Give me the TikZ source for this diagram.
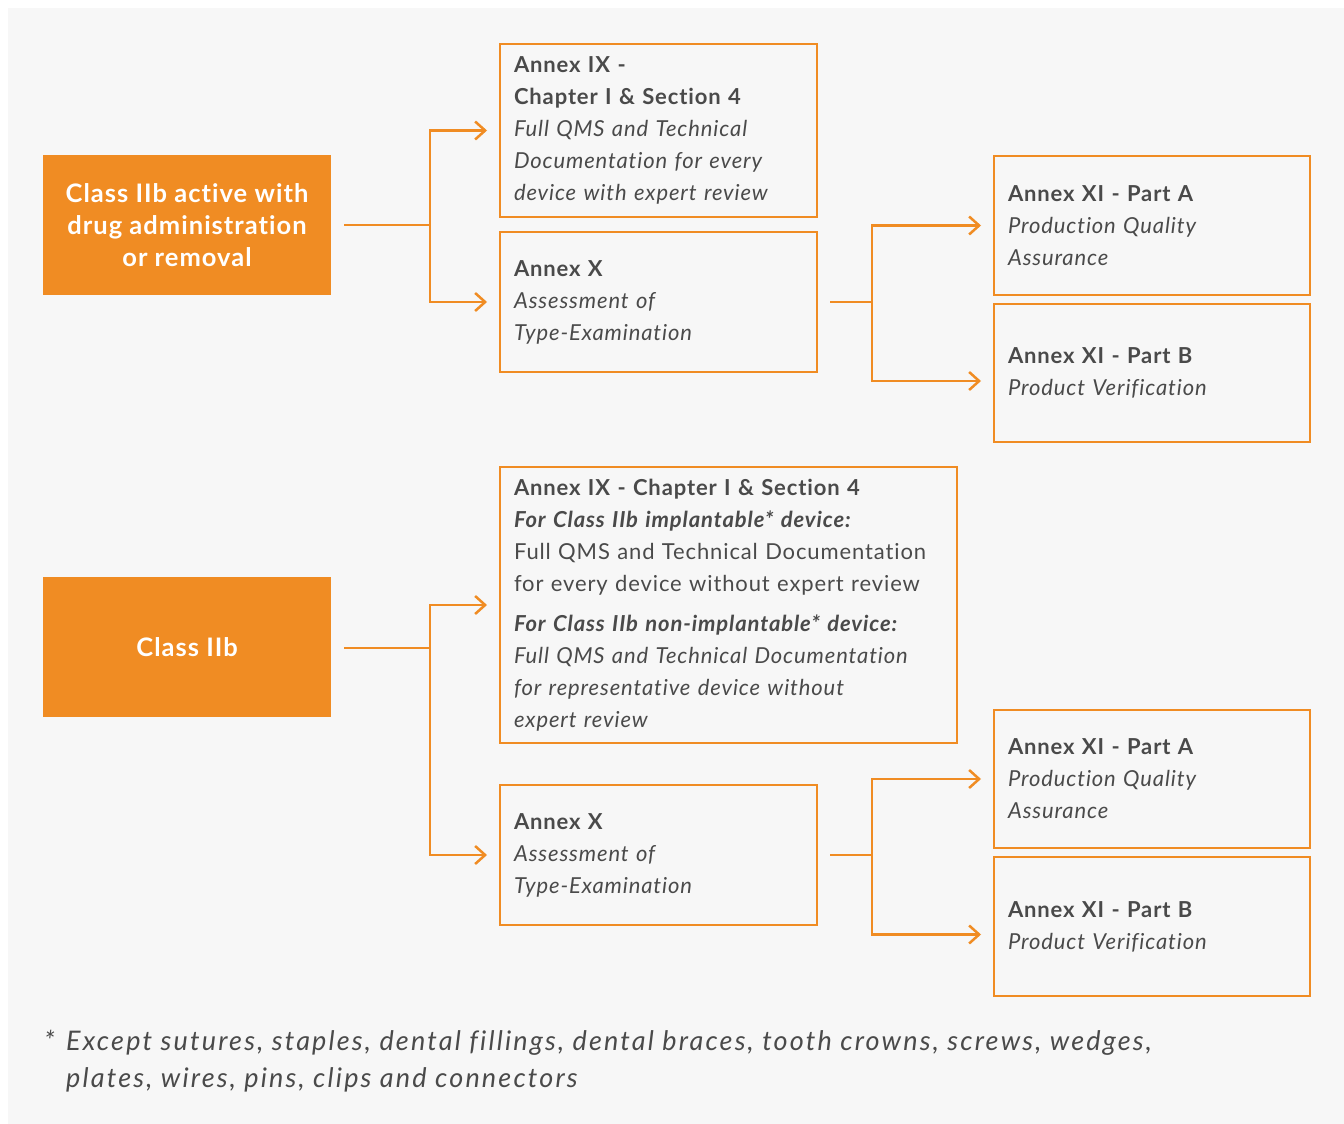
\documentclass[tikz,border=0pt]{standalone}
\usepackage{fontspec}
\setmainfont{Lato}[LetterSpace=4, Ligatures=NoCommon]
\usetikzlibrary{arrows.meta}
\definecolor{orng}{HTML}{F08C23}
\definecolor{txt}{HTML}{4A4A4A}
\definecolor{bg}{HTML}{F7F7F7}
\tikzset{
  solidbox/.style={fill=orng, draw=none, text=white, align=center, font=\fontsize{25.5}{32}\selectfont\bfseries, minimum width=288pt, minimum height=140pt, inner sep=0pt, outer sep=0pt, anchor=north west},
  outbox/.style={draw=orng, line width=2.5pt, text=txt, align=left, font=\fontsize{22}{32}\selectfont, inner xsep=14pt, inner ysep=0pt, outer sep=0pt, anchor=north west, yshift=-2pt},
  link/.style={draw=orng, line width=2.5pt},
  arr/.style={link, -{Straight Barb[length=10pt, width=18pt, line width=2.5pt]}}
}
\begin{document}
\begin{tikzpicture}[x=1pt, y=-1pt]
\useasboundingbox (0,0) rectangle (1344,1124);
\fill[bg] (8,8) rectangle (1344,1124);

% top group
\node[solidbox] (cls1) at (43,155) {Class IIb active with\\drug administration\\or removal};
\node[outbox, text width=289pt, minimum width=317pt, minimum height=173pt] (a1) at (500,42)
  {\textbf{Annex IX -}\\\textbf{Chapter I \& Section 4}\\\textit{Full QMS and Technical}\\\textit{Documentation for every}\\\textit{device with expert review}};
\node[outbox, text width=289pt, minimum width=317pt, minimum height=140pt] (a2) at (500,230)
  {\textbf{Annex X}\\\textit{Assessment of}\\\textit{Type-Examination}};
\node[outbox, text width=288pt, minimum width=316pt, minimum height=139pt] (b1) at (994,154)
  {\textbf{Annex XI - Part A}\\\textit{Production Quality}\\\textit{Assurance}};
\node[outbox, text width=288pt, minimum width=316pt, minimum height=138pt] (b2) at (994,302)
  {\textbf{Annex XI - Part B}\\\textit{Product Verification}};

% bottom group
\node[solidbox] (cls2) at (43,577) {Class IIb};
\node[outbox, text width=429pt, minimum width=457pt, minimum height=276pt] (c1) at (500,465)
  {\textbf{Annex IX - Chapter I \& Section 4}\\
   \textbf{\textit{For Class IIb implantable* device:}}\\
   Full QMS and Technical Documentation\\
   for every device without expert review\\[8pt]
   \textbf{\textit{For Class IIb non-implantable* device:}}\\
   \textit{Full QMS and Technical Documentation}\\
   \textit{for representative device without}\\
   \textit{expert review}};
\node[outbox, text width=289pt, minimum width=317pt, minimum height=140pt] (c2) at (500,783)
  {\textbf{Annex X}\\\textit{Assessment of}\\\textit{Type-Examination}};
\node[outbox, text width=288pt, minimum width=316pt, minimum height=138pt] (d1) at (994,708)
  {\textbf{Annex XI - Part A}\\\textit{Production Quality}\\\textit{Assurance}};
\node[outbox, text width=288pt, minimum width=316pt, minimum height=139pt] (d2) at (994,855)
  {\textbf{Annex XI - Part B}\\\textit{Product Verification}};

% junctions
\coordinate (j1) at (430,225);
\coordinate (j2) at (872,302);
\coordinate (j3) at (430,648);
\coordinate (j4) at (872,855);

% connectors top
\draw[link] ([xshift=13pt]cls1.east |- j1) -- (j1);
\draw[arr] (j1) |- ([xshift=-13pt]a1.west);
\draw[arr] (j1) |- ([xshift=-13pt]a2.west);
\draw[link] ([xshift=13pt]a2.east) -- (j2);
\draw[arr] (j2) |- ([xshift=-13pt]b1.west);
\draw[arr] (j2) |- ([xshift=-13pt,yshift=-8pt]b2.west);

% connectors bottom
\draw[link] ([xshift=13pt]cls2.east |- j3) -- (j3);
\draw[arr] (j3) |- ([xshift=-13pt]c1.west);
\draw[arr] (j3) |- ([xshift=-13pt]c2.west);
\draw[link] ([xshift=13pt]c2.east) -- (j4);
\draw[arr] (j4) |- ([xshift=-13pt]d1.west);
\draw[arr] (j4) |- ([xshift=-13pt,yshift=-8pt]d2.west);

% footnote
\node[anchor=north west, align=left, text=txt, font=\fontsize{27}{37}\selectfont\itshape\addfontfeature{LetterSpace=8}, inner sep=0pt] (foot) at (44,1030)
  {\makebox[22pt][l]{*}Except sutures, staples, dental fillings, dental braces, tooth crowns, screws, wedges,\\
   \hspace*{22pt}plates, wires, pins, clips and connectors};
\end{tikzpicture}
\end{document}
